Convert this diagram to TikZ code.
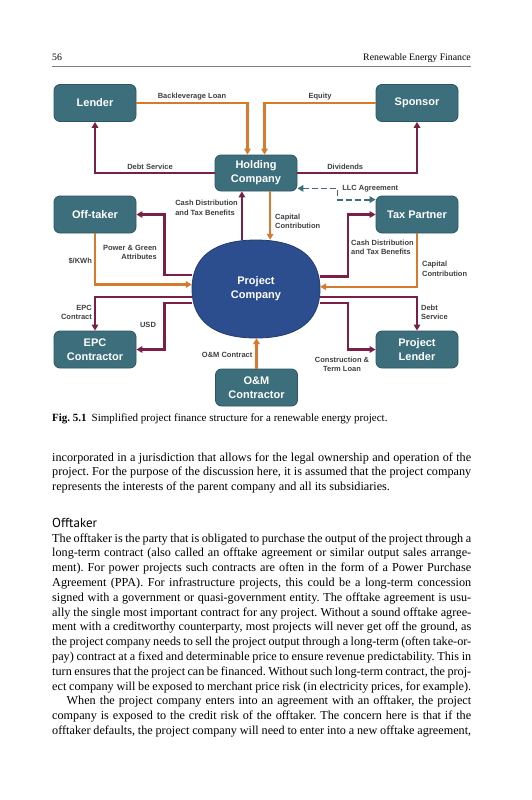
\documentclass[tikz,border=0pt]{standalone}
\usepackage{fontspec}
\setmainfont{Liberation Serif}
\newfontfamily\chartfont{Liberation Sans}
\newfontfamily\headfont{PT Sans}
\usetikzlibrary{arrows.meta}
\frenchspacing

\definecolor{boxteal}{RGB}{60,110,124}
\definecolor{boxedge}{RGB}{44,86,100}
\definecolor{pcblue}{RGB}{44,78,142}
\definecolor{pcedge}{RGB}{34,60,112}
\definecolor{flowor}{RGB}{214,122,46}
\definecolor{flowmr}{RGB}{122,32,72}
\definecolor{lbltext}{RGB}{64,64,64}

\tikzset{
  >={Triangle[length=6pt,width=6.5pt]},
  party/.style={draw=boxedge, fill=boxteal, line width=0.8pt, rounded corners=6pt,
    minimum width=82pt, minimum height=37pt, inner sep=0pt, text=white, align=center,
    font=\chartfont\bfseries\fontsize{11}{14}\selectfont},
  spv/.style={minimum width=128pt, minimum height=98pt, inner sep=0pt, text=white, align=center,
    font=\chartfont\bfseries\fontsize{11}{14}\selectfont},
  blob/.style={fill=pcblue, draw=pcedge, line width=0.8pt},
  money/.style={draw=flowor, line width=2.2pt, ->},
  deal/.style={draw=flowmr, line width=2.2pt, ->},
  llc/.style={draw=boxteal, line width=1.8pt, dash pattern=on 6pt off 3pt, <->},
  lbl/.style={text=lbltext, inner sep=0pt, font=\chartfont\bfseries\fontsize{7.5}{9.5}\selectfont},
  body/.style={anchor=base west, inner sep=0pt, text width=419pt, align=justify,
    font=\fontsize{12.2}{14.8}\selectfont}
}

\begin{document}
\begin{tikzpicture}[x=1pt, y=-1pt]
    \useasboundingbox[fill=white] (0,0) rectangle (531,800);

    % running head
    \node[anchor=base west, inner sep=0pt, font=\fontsize{9.8}{12}\selectfont] (pageno) at (52,60) {56};
    \node[anchor=base east, inner sep=0pt, font=\fontsize{9.8}{12}\selectfont] (runhead) at (471,60) {Renewable Energy Finance};
    \draw[gray, line width=0.6pt] (pageno.base west |- 0,66) -- (runhead.base east |- 0,66);

    % the project company blob (squarish oval)
    \path[blob] (256,240) .. controls (298,240) and (320,257) .. (320,289)
        .. controls (320,321) and (298,338) .. (256,338)
        .. controls (214,338) and (192,321) .. (192,289)
        .. controls (192,257) and (214,240) .. (256,240) -- cycle;

    % the parties
    \node[party] (lender) at (95,103) {Lender};
    \node[party] (sponsor) at (417,103) {Sponsor};
    \node[party, minimum height=36pt] (holding) at (256,173) {Holding\\Company};
    \node[party] (offtaker) at (95,214.5) {Off-taker};
    \node[party] (taxp) at (417,214.5) {Tax Partner};
    \node[spv] (pc) at (256,289) {Project\\Company};
    \node[party] (epc) at (95,349.5) {EPC\\Contractor};
    \node[party] (plender) at (417,349.5) {Project\\Lender};
    \node[party] (om) at (256.5,387.5) {O\&M\\Contractor};

    % holding company level
    \draw[money] (lender.east) -| ([xshift=-8.5pt]holding.north) node[lbl, pos=0.25, above=2pt] (bll) {Backleverage Loan};
    \draw[money] (sponsor.west) -| ([xshift=8.5pt]holding.north) node[lbl, pos=0.25, above=2pt] (eql) {Equity};
    \draw[deal] (holding.west) -| (lender.south) node[lbl, pos=0.27, above=2pt] (dsl) {Debt Service};
    \draw[deal] (holding.east) -| (sponsor.south) node[lbl, pos=0.2, above=2pt] (dvl) {Dividends};
    \draw[llc] ([yshift=3pt]holding.south east) -- ++(40,0) node[lbl, right=4pt] (llcl) {LLC Agreement}
        |- ([yshift=-4pt]taxp.north west);

    % holding <-> project company
    \draw[deal] (pc.106) -- (pc.106 |- holding.south) node[lbl, align=left, left=3pt, pos=0.66] (cdl) {Cash Distribution\\and Tax Benefits};
    \draw[money] (pc.74 |- holding.south) -- (pc.74) node[lbl, align=left, right=4pt, pos=0.62] (ccl) {Capital\\Contribution};

    % left side
    \draw[deal] (pc.168) -| ([xshift=28pt]offtaker.east) -- (offtaker.east);
    \node[lbl, align=right, anchor=east] (pgl) at (157,252.5) {Power \& Green\\Attributes};
    \draw[money] (offtaker.south) |- (pc.176) node[lbl, left=2pt, pos=0.27] (kwl) {\$/KWh};
    \draw[deal] (pc.187) -| (epc.north) node[lbl, align=right, left=2pt, pos=0.73] (ecl) {EPC\\Contract};
    \draw[deal] (pc.192) -| ([xshift=28pt]epc.east) -- (epc.east);
    \node[lbl] (usdl) at (148,325) {USD};

    % right side
    \draw[deal] (pc.11) -| ([xshift=-28pt]taxp.west) -- (taxp.west);
    \node[lbl, align=left, anchor=west] (tcdl) at (351,247.5) {Cash Distribution\\and Tax Benefits};
    \draw[money] (taxp.south) |- (pc.2) node[lbl, align=left, right=4pt, pos=0.33] (tccl) {Capital\\Contribution};
    \draw[deal] (pc.-7) -| (plender.north) node[lbl, align=left, right=3pt, pos=0.73] (pdsl) {Debt\\Service};
    \draw[deal] (pc.-12) -| ([xshift=-28pt]plender.west) -- (plender.west);
    \node[lbl, align=center] (ctl) at (342,364.5) {Construction \&\\Term Loan};

    % O&M
    \draw[money] (om.north) -- (om.north |- pc.south) node[lbl, left=3pt, pos=0.45] (omcl) {O\&M Contract};

    % caption
    \node[anchor=base west, inner sep=0pt, font=\fontsize{11}{13}\selectfont] (cap) at (52,421)
        {\textbf{Fig. 5.1}\hspace{5pt}Simplified project finance structure for a renewable energy project.};

    % body text
    \node[body] (para1) at (52,461) {incorporated in a jurisdiction that allows for the legal ownership and operation of the\linebreak
        project. For the purpose of the discussion here, it is assumed that the project company\linebreak
        represents the interests of the parent company and all its subsidiaries.};
    \node[anchor=base west, inner sep=0pt, font=\headfont\fontsize{13}{15}\selectfont] (offhead) at (52,527) {Offtaker};
    \node[body] (para2) at (52,542) {The offtaker is the party that is obligated to purchase the output of the project through a\linebreak
        long-term contract (also called an offtake agreement or similar output sales arrange-\linebreak
        ment). For power projects such contracts are often in the form of a Power Purchase\linebreak
        Agreement (PPA). For infrastructure projects, this could be a long-term concession\linebreak
        signed with a government or quasi-government entity. The offtake agreement is usu-\linebreak
        ally the single most important contract for any project. Without a sound offtake agree-\linebreak
        ment with a creditworthy counterparty, most projects will never get off the ground, as\linebreak
        the project company needs to sell the project output through a long-term (often take-or-\linebreak
        pay) contract at a fixed and determinable price to ensure revenue predictability. This in\linebreak
        turn ensures that the project can be financed. Without such long-term contract, the proj-\linebreak
        ect company will be exposed to merchant price risk (in electricity prices, for example).\par
        \parfillskip=0pt\hspace*{14.5pt}When the project company enters into an agreement with an offtaker, the project\linebreak
        company is exposed to the credit risk of the offtaker. The concern here is that if the\linebreak
        offtaker defaults, the project company will need to enter into a new offtake agreement,};
\end{tikzpicture}
\end{document}
